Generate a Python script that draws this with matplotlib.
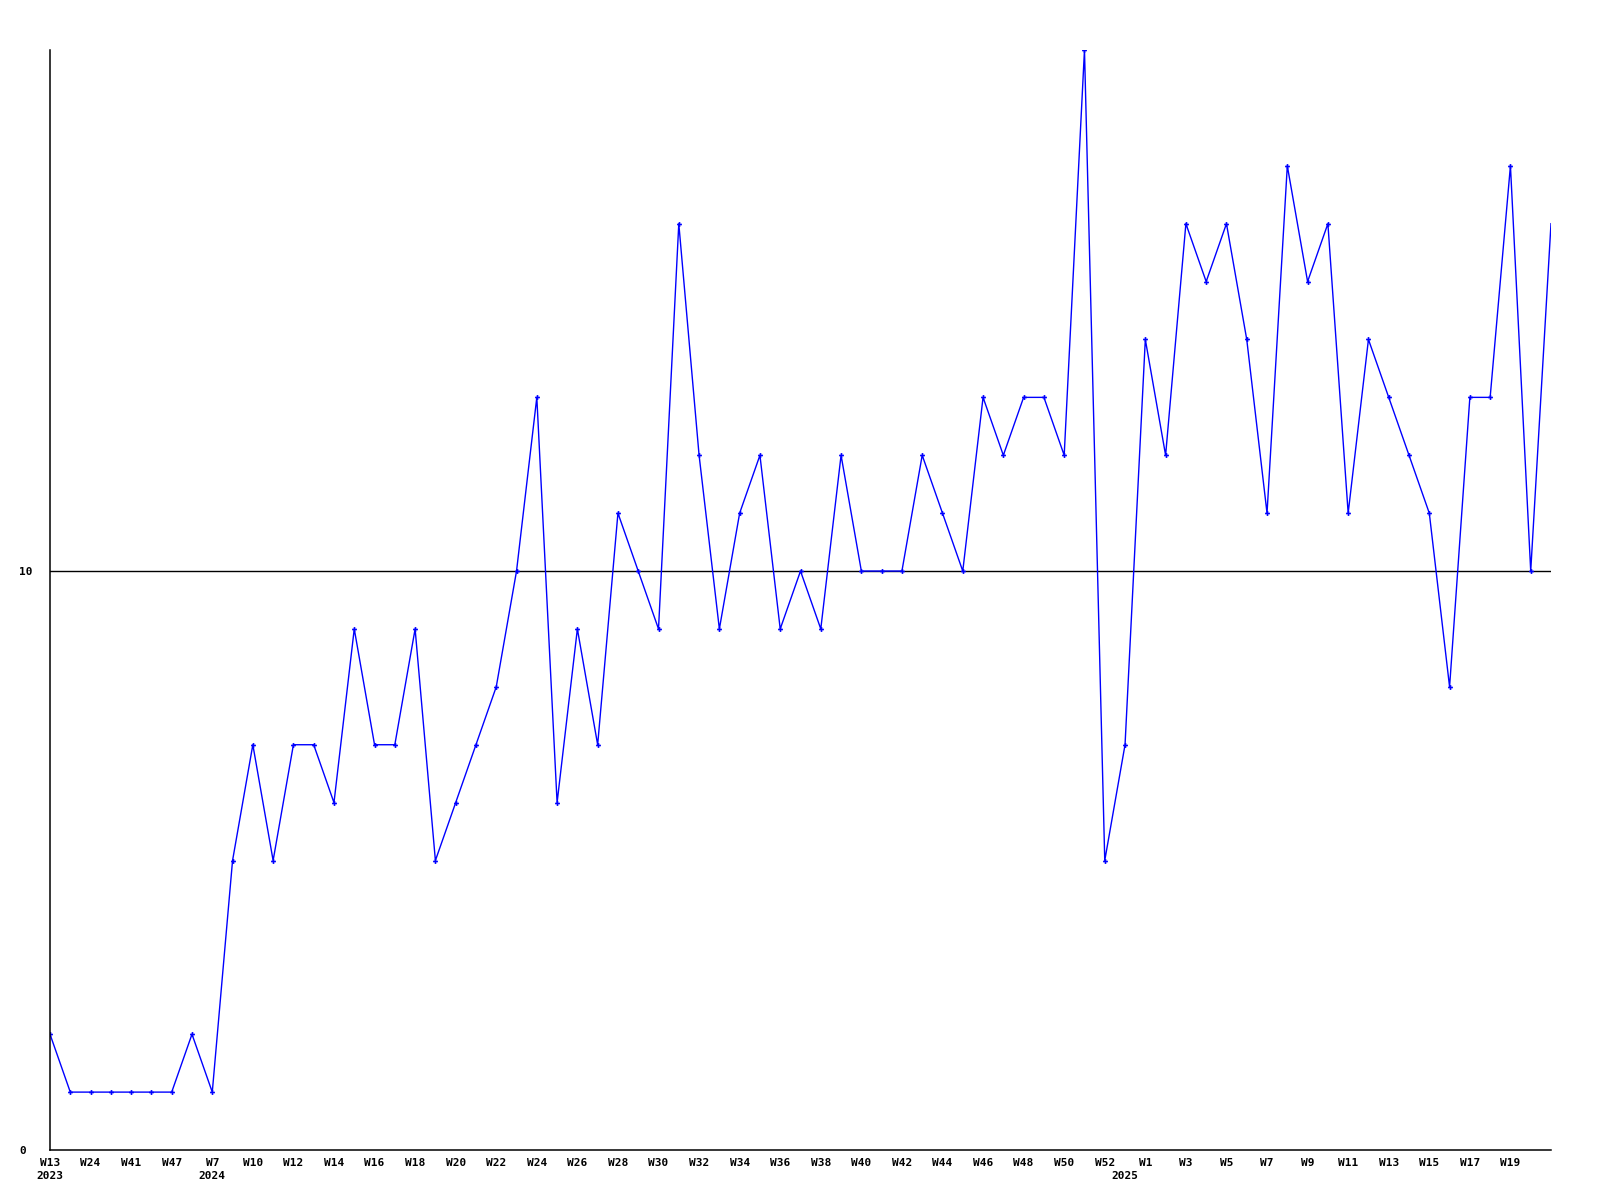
import matplotlib
matplotlib.use("Agg")
import matplotlib.pyplot as plt
import matplotlib.transforms as mtransforms

# weekly values
weeks = ["W13", "W20", "W24", "W35", "W41", "W44", "W47", "W52",
         "W7", "W9", "W10", "W11", "W12", "W13", "W14", "W15", "W16", "W17",
         "W18", "W19", "W20", "W21", "W22", "W23", "W24", "W25", "W26", "W27",
         "W28", "W29", "W30", "W31", "W32", "W33", "W34", "W35", "W36", "W37",
         "W38", "W39", "W40", "W41", "W42", "W43", "W44", "W45", "W46", "W47",
         "W48", "W49", "W50", "W51", "W52", "W53",
         "W1", "W2", "W3", "W4", "W5", "W6", "W7", "W8", "W9", "W10", "W11",
         "W12", "W13", "W14", "W15", "W16", "W17", "W18", "W19", "W20", "W21"]
values = [2, 1, 1, 1, 1, 1, 1, 2,
          1, 5, 7, 5, 7, 7, 6, 9, 7, 7,
          9, 5, 6, 7, 8, 10, 13, 6, 9, 7,
          11, 10, 9, 16, 12, 9, 11, 12, 9, 10,
          9, 12, 10, 10, 10, 12, 11, 10, 13, 12,
          13, 13, 12, 19, 5, 7,
          14, 12, 16, 15, 16, 14, 11, 17, 15, 16, 11,
          14, 13, 12, 11, 8, 13, 13, 17, 10, 16]
year_pos = [0, 8, 53]
year_names = ["2023", "2024", "2025"]

x = list(range(len(values)))

plt.rcParams["font.family"] = "DejaVu Sans Mono"
plt.rcParams["font.weight"] = "bold"

fig = plt.figure(figsize=(16, 12), dpi=100)
ax = fig.add_axes([50 / 1600, 50 / 1200, 1501 / 1600, 1100 / 1200])

# blue line, small markers, last point has none (it sits on the edge)
ax.plot(x, values, color="#0000ff", linewidth=1.0, marker="P", markersize=3.5,
        markeredgewidth=0, markevery=list(range(len(values) - 1)))
ax.axhline(10, color="black", linewidth=1.0, zorder=0)

ax.set_xlim(0, len(values) - 1)
ax.set_ylim(0, 19)

ax.spines["top"].set_visible(False)
ax.spines["right"].set_visible(False)
ax.spines["left"].set_linewidth(1.1)
ax.spines["bottom"].set_linewidth(1.1)

ax.set_yticks([0, 10])
ax.set_yticklabels(["0", "10"], fontsize=8, fontweight="bold")
ax.tick_params(axis="y", length=0, pad=22)
for lab in ax.get_yticklabels():
    lab.set_horizontalalignment("left")

ticks = x[::2][:-1]
ax.set_xticks(ticks)
ax.set_xticklabels([weeks[i] for i in ticks], fontsize=8, fontweight="bold")
ax.tick_params(axis="x", length=0, pad=6)

trans = mtransforms.blended_transform_factory(ax.transData, ax.transAxes)
for p, name in zip(year_pos, year_names):
    ax.text(p, -26 / 1100, name, transform=trans, ha="center", va="center",
            fontsize=8, fontweight="bold")

fig.savefig("out.png", dpi=100)
